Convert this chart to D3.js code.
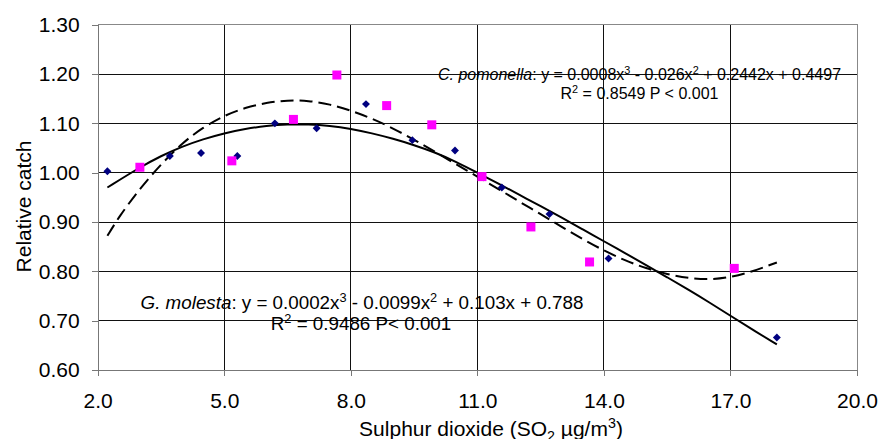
<!DOCTYPE html>
<html>
<head>
<meta charset="utf-8">
<script src="https://cdn.jsdelivr.net/npm/d3@7"></script>
<style>
  body { margin: 0; background: #fff; }
  text { font-family: "Liberation Sans", Arial, sans-serif; fill: #000; }
</style>
</head>
<body>
<div id="chart"></div>
<script>
// axis ticks
const xTicks = [2, 5, 8, 11, 14, 17, 20];
const yTicks = [0.6, 0.7, 0.8, 0.9, 1.0, 1.1, 1.2, 1.3];

// G. molesta observations (blue diamonds)
const molestaX = [2.23, 3.71, 4.45, 5.31, 6.2, 7.19, 8.36, 9.46, 10.47, 11.58, 12.71, 14.11, 18.1];
const molestaY = [1.003, 1.034, 1.040, 1.034, 1.100, 1.090, 1.139, 1.066, 1.045, 0.970, 0.916, 0.826, 0.666];

// C. pomonella observations (magenta squares)
const pomonellaX = [3.0, 5.18, 6.64, 7.67, 8.85, 9.92, 11.11, 12.27, 13.66, 17.09];
const pomonellaY = [1.011, 1.024, 1.108, 1.198, 1.136, 1.097, 0.992, 0.890, 0.819, 0.806];

// G. molesta trendline (solid)
const molestaFitX = [2.23, 3.0, 3.5, 4.0, 4.5, 5.0, 5.5, 6.0, 6.5, 7.0, 7.5, 8.0, 8.5, 9.0, 9.5, 10.0, 10.5, 11.0, 11.5, 12.0, 12.5, 13.0, 13.5, 14.0, 14.5, 15.0, 15.5, 16.0, 16.5, 17.0, 17.5, 18.1];
const molestaFitY = [0.970, 1.011, 1.034, 1.053, 1.068, 1.080, 1.089, 1.095, 1.098, 1.098, 1.095, 1.089, 1.080, 1.069, 1.056, 1.041, 1.022, 1.000, 0.978, 0.955, 0.932, 0.909, 0.885, 0.861, 0.837, 0.813, 0.788, 0.763, 0.737, 0.710, 0.683, 0.652];

// C. pomonella trendline (dashed)
const pomonellaFitX = [2.23, 2.5, 3.0, 3.5, 4.0, 4.5, 5.0, 5.5, 6.0, 6.5, 7.0, 7.5, 8.0, 8.5, 9.0, 9.5, 10.0, 10.5, 11.0, 11.5, 12.0, 12.5, 13.0, 13.5, 14.0, 14.5, 15.0, 15.5, 16.0, 16.5, 17.0, 17.5, 18.1];
const pomonellaFitY = [0.872, 0.910, 0.968, 1.017, 1.060, 1.092, 1.116, 1.132, 1.142, 1.147, 1.146, 1.139, 1.126, 1.110, 1.090, 1.067, 1.042, 1.017, 0.992, 0.967, 0.941, 0.916, 0.890, 0.865, 0.842, 0.822, 0.806, 0.794, 0.786, 0.783, 0.788, 0.799, 0.818];

const W = 879, H = 439;
const plotL = 97.7, plotR = 857, plotT = 24.7, plotB = 370;

const svg = d3.select("#chart").append("svg")
  .attr("width", W).attr("height", H);

const x = d3.scaleLinear().domain([2, 20]).range([plotL, plotR]);
const y = d3.scaleLinear().domain([0.6, 1.3]).range([plotB, plotT]);

// gridlines
const grid = svg.append("g").attr("shape-rendering", "crispEdges");
grid.selectAll("line.h").data(yTicks.slice(1, -1)).enter().append("line")
  .attr("x1", plotL).attr("x2", plotR)
  .attr("y1", d => y(d)).attr("y2", d => y(d))
  .attr("stroke", "#111").attr("stroke-width", 1);
grid.selectAll("line.v").data(xTicks.slice(1, -1)).enter().append("line")
  .attr("y1", plotT).attr("y2", plotB)
  .attr("x1", d => x(d)).attr("x2", d => x(d))
  .attr("stroke", "#111").attr("stroke-width", 1);

// outer frame (top + right), light gray like the original
grid.append("path")
  .attr("d", `M${plotL},${plotT} H${plotR} V${plotB}`)
  .attr("fill", "none").attr("stroke", "#888");

// axes
const yAxis = svg.append("g")
  .attr("transform", `translate(${plotL},0)`)
  .call(d3.axisLeft(y).tickValues(yTicks).tickFormat(d3.format(".2f")).tickSize(6).tickPadding(12));
const xAxis = svg.append("g")
  .attr("transform", `translate(0,${plotB})`)
  .call(d3.axisBottom(x).tickValues(xTicks).tickFormat(d3.format(".1f")).tickSize(6).tickPadding(17));

[yAxis, xAxis].forEach(a => {
  a.attr("shape-rendering", "crispEdges");
  a.select(".domain").attr("stroke", "#777");
  a.selectAll(".tick line").attr("stroke", "#777");
  a.selectAll(".tick text")
    .style("font-size", "21px")
    .style("font-family", "'Liberation Sans', Arial, sans-serif")
    .attr("fill", "#000");
});

// trendlines
const line = d3.line()
  .x(d => x(d[0])).y(d => y(d[1]))
  .curve(d3.curveBasis);

svg.append("path")
  .datum(d3.zip(pomonellaFitX, pomonellaFitY))
  .attr("d", line)
  .attr("fill", "none").attr("stroke", "#000")
  .attr("stroke-width", 2).attr("stroke-dasharray", "13,6");

svg.append("path")
  .datum(d3.zip(molestaFitX, molestaFitY))
  .attr("d", line)
  .attr("fill", "none").attr("stroke", "#000")
  .attr("stroke-width", 2);

// markers
svg.selectAll("path.diamond").data(d3.zip(molestaX, molestaY)).enter().append("path")
  .attr("d", d3.symbol(d3.symbolDiamond2, 40))
  .attr("transform", d => `translate(${x(d[0])},${y(d[1])})`)
  .attr("fill", "#000080");

svg.selectAll("rect.sq").data(d3.zip(pomonellaX, pomonellaY)).enter().append("rect")
  .attr("x", d => x(d[0]) - 4.5).attr("y", d => y(d[1]) - 4.5)
  .attr("width", 9).attr("height", 9)
  .attr("fill", "#ff00ff");

// rich text helper (italics, super/subscripts)
function richText(px, py, size, parts) {
  const t = svg.append("text")
    .attr("x", px).attr("y", py)
    .attr("text-anchor", "middle")
    .style("font-size", size + "px");
  let shift = 0;
  parts.forEach(p => {
    const s = t.append("tspan").text(p.t);
    let target = 0;
    if (p.sup) target = -size * 0.38;
    if (p.sub) target = size * 0.22;
    s.attr("dy", target - shift);
    shift = target;
    if (p.sup || p.sub) s.style("font-size", (size * 0.68) + "px");
    if (p.i) s.style("font-style", "italic");
  });
  return t;
}

// equation labels
richText(639.5, 80, 16, [
  { t: "C. pomonella", i: true }, { t: ": y = 0.0008x" }, { t: "3", sup: true },
  { t: " - 0.026x" }, { t: "2", sup: true }, { t: " + 0.2442x + 0.4497" }
]);
richText(639.5, 99, 16, [
  { t: "R" }, { t: "2", sup: true }, { t: " = 0.8549 P < 0.001" }
]);

richText(362, 309, 18.8, [
  { t: "G. molesta", i: true }, { t: ": y = 0.0002x" }, { t: "3", sup: true },
  { t: " - 0.0099x" }, { t: "2", sup: true }, { t: " + 0.103x + 0.788" }
]);
richText(361, 330, 18.8, [
  { t: "R" }, { t: "2", sup: true }, { t: " = 0.9486 P< 0.001" }
]);

// axis titles
richText(491, 436, 21, [
  { t: "Sulphur dioxide (SO" }, { t: "2", sub: true }, { t: " µg/m" }, { t: "3", sup: true }, { t: ")" }
]);

svg.append("text")
  .attr("transform", "translate(31,206.5) rotate(-90)")
  .attr("text-anchor", "middle")
  .style("font-size", "21px")
  .text("Relative catch");
</script>
</body>
</html>
